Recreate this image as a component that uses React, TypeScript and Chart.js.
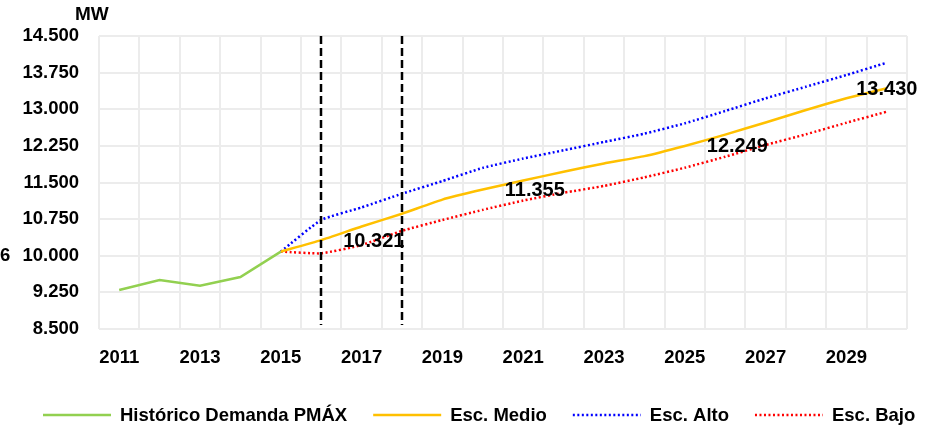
import React, { useEffect, useRef } from 'react';
import { Chart, registerables } from 'chart.js';

Chart.register(...registerables);

const years = ['2011', '2012', '2013', '2014', '2015', '2016', '2017', '2018', '2019', '2020', '2021', '2022', '2023', '2024', '2025', '2026', '2027', '2028', '2029', '2030'];
const historico = [9298, 9503, 9386, 9565, 10085, null, null, null, null, null, null, null, null, null, null, null, null, null, null, null];
const escMedio = [null, null, null, null, 10085, 10321, 10600, 10860, 11150, 11355, 11540, 11720, 11890, 12040, 12249, 12480, 12730, 12985, 13225, 13430];
const escAlto = [null, null, null, null, 10085, 10732, 10990, 11270, 11530, 11800, 11990, 12160, 12330, 12500, 12712, 12964, 13224, 13462, 13701, 13954];
const escBajo = [null, null, null, null, 10085, 10050, 10220, 10510, 10732, 10940, 11130, 11290, 11430, 11606, 11803, 12028, 12268, 12487, 12724, 12950];
const seriesNames = ['Histórico Demanda PMÁX', 'Esc. Medio', 'Esc. Alto', 'Esc. Bajo'];
const labelledYears = ['2016', '2020', '2025', '2030'];
const markerYears = ['2016', '2018'];
const yMin = 8500;
const yMax = 14500;
const yStep = 750;
const yTitle = 'MW';
const sideNote = '6';

const FONT = '"Liberation Sans", Arial, sans-serif';

function fmt(v: number): string {
  return Math.round(v).toString().replace(/\B(?=(\d{3})+(?!\d))/g, '.');
}

const overlayPlugin = {
  id: 'overlay',
  afterDatasetsDraw(chart: any) {
    const ctx = chart.ctx;
    const xs = chart.scales.x;
    const area = chart.chartArea;
    ctx.save();
    ctx.strokeStyle = '#000000';
    ctx.lineWidth = 2.5;
    ctx.setLineDash([8, 4]);
    markerYears.forEach((yr) => {
      const px = Math.round(xs.getPixelForValue(years.indexOf(yr)));
      ctx.beginPath();
      ctx.moveTo(px, area.top);
      ctx.lineTo(px, area.bottom - 4);
      ctx.stroke();
    });
    ctx.restore();
  },
  afterDraw(chart: any) {
    const ctx = chart.ctx;
    const xs = chart.scales.x;
    const ys = chart.scales.y;
    ctx.save();
    ctx.fillStyle = '#000000';
    ctx.font = `bold 20px ${FONT}`;
    ctx.textBaseline = 'middle';
    labelledYears.forEach((yr) => {
      const i = years.indexOf(yr);
      const v = escMedio[i] as number;
      const px = xs.getPixelForValue(i);
      const py = ys.getPixelForValue(v);
      const isLast = i === years.length - 1;
      ctx.textAlign = isLast ? 'center' : 'left';
      ctx.fillText(fmt(v), isLast ? px : px + 22, py + 1);
    });
    ctx.font = `bold 19px ${FONT}`;
    ctx.textAlign = 'left';
    ctx.fillText(yTitle, 75, 15);
    ctx.font = `bold 18.5px ${FONT}`;
    ctx.fillText(sideNote, 0, 256);
    const ly = 415;
    let lx = 43;
    ctx.font = `bold 18.5px ${FONT}`;
    chart.data.datasets.forEach((ds: any) => {
      ctx.save();
      ctx.strokeStyle = ds.borderColor;
      ctx.lineWidth = ds.borderWidth;
      ctx.setLineDash(ds.borderDash || []);
      ctx.beginPath();
      ctx.moveTo(lx, ly);
      ctx.lineTo(lx + 68, ly);
      ctx.stroke();
      ctx.restore();
      ctx.fillStyle = '#000000';
      ctx.textAlign = 'left';
      ctx.fillText(ds.label, lx + 77, ly + 1);
      lx = lx + 77 + ctx.measureText(ds.label).width + 26;
    });
    ctx.restore();
  },
};

export default function App() {
  const ref = useRef<HTMLCanvasElement | null>(null);
  useEffect(() => {
    document.body.style.margin = '0';
    const canvas = ref.current;
    if (!canvas) return;
    const chart = new Chart(canvas, {
      type: 'line',
      data: {
        labels: years,
        datasets: [
          { label: seriesNames[0], data: historico, borderColor: '#92D050', backgroundColor: '#92D050', borderWidth: 2.5, pointRadius: 0, tension: 0, spanGaps: false },
          { label: seriesNames[1], data: escMedio, borderColor: '#FFC000', backgroundColor: '#FFC000', borderWidth: 2.5, pointRadius: 0, tension: 0.15 },
          { label: seriesNames[2], data: escAlto, borderColor: '#0000FF', backgroundColor: '#0000FF', borderWidth: 2.5, borderDash: [2, 2.5], pointRadius: 0, tension: 0.15 },
          { label: seriesNames[3], data: escBajo, borderColor: '#FF0000', backgroundColor: '#FF0000', borderWidth: 2.5, borderDash: [2, 2.5], pointRadius: 0, tension: 0.15 },
        ],
      },
      options: {
        animation: false,
        responsive: false,
        maintainAspectRatio: false,
        devicePixelRatio: 1,
        layout: { padding: { top: 36, right: 25, bottom: 0, left: 0 } },
        plugins: {
          legend: { display: false },
          tooltip: { enabled: false },
          title: { display: false },
        },
        scales: {
          x: {
            type: 'category',
            offset: true,
            grid: { offset: true, color: '#ececec', lineWidth: 2, drawTicks: false },
            border: { display: false },
            ticks: {
              autoSkip: false,
              maxRotation: 0,
              minRotation: 0,
              padding: 18,
              color: '#000000',
              font: { family: FONT, size: 18.5, weight: 'bold' },
              callback: (_v: any, i: number) => (i % 2 === 0 ? years[i] : ''),
            },
            afterFit: (scale: any) => {
              scale.height = 99;
            },
          },
          y: {
            min: yMin,
            max: yMax,
            grid: { color: '#ececec', lineWidth: 2, drawTicks: false },
            border: { display: false },
            ticks: {
              stepSize: yStep,
              padding: 20,
              color: '#000000',
              font: { family: FONT, size: 18.5, weight: 'bold' },
              callback: (v: any) => fmt(Number(v)),
            },
            afterFit: (scale: any) => {
              scale.width = 99;
            },
          },
        },
      },
      plugins: [overlayPlugin],
    });
    return () => chart.destroy();
  }, []);
  return (
    <div style={{ width: 932, height: 428, background: '#ffffff' }}>
      <canvas ref={ref} width={932} height={428} style={{ display: 'block' }} />
    </div>
  );
}
